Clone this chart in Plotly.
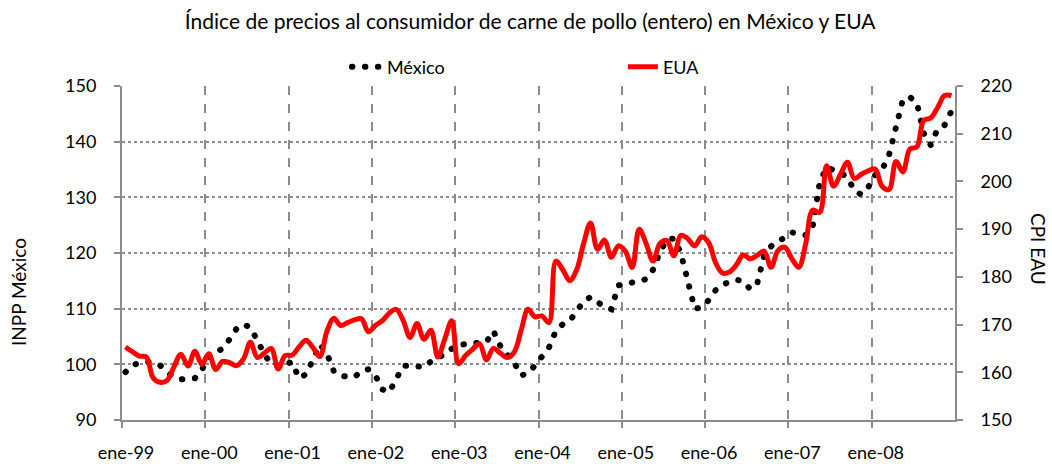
import plotly.graph_objects as go

# Months: index 0 = ene-1999 ... 119 = dic-2008
meses = list(range(120))

tick_pos = [-0.5, 11.5, 23.5, 35.5, 47.5, 59.5, 71.5, 83.5, 95.5, 107.5]
tick_labels = ["ene-99", "ene-00", "ene-01", "ene-02", "ene-03",
               "ene-04", "ene-05", "ene-06", "ene-07", "ene-08"]

# INPP México (left axis)
mexico = [
    98.6, 99.8, 100.3, 100.5, 100.3, 99.8, 98.6, 97.7, 97.3, 97.4, 97.5, 99.0,      # 1999
    101.3, 102.2, 102.8, 104.5, 106.4, 107.2, 106.6, 104.3, 101.8, 100.0, 99.8, 100.0,  # 2000
    100.4, 97.5, 98.2, 100.8, 103.6, 102.0, 98.8, 97.9, 97.7, 97.7, 98.8, 99.1,     # 2001
    98.0, 95.5, 95.0, 97.5, 99.7, 99.8, 99.7, 99.5, 100.5, 101.3, 101.7, 102.8,     # 2002
    103.5, 103.6, 103.7, 103.8, 104.0, 106.0, 103.3, 101.7, 100.3, 98.0, 98.4, 99.8,  # 2003
    101.5, 103.0, 106.0, 107.2, 107.8, 109.8, 111.3, 112.1, 111.3, 110.3, 109.9, 114.2,  # 2004
    114.4, 114.6, 115.0, 115.3, 117.0, 120.2, 122.4, 122.6, 120.0, 115.0, 110.0, 110.2,  # 2005
    111.5, 113.3, 114.3, 114.8, 115.2, 114.9, 113.5, 114.5, 119.5, 121.2, 122.2, 122.7,  # 2006
    123.7, 123.5, 123.2, 124.8, 132.6, 135.4, 135.0, 134.4, 133.6, 131.2, 130.5, 131.8,  # 2007
    134.0, 135.0, 137.6, 142.8, 147.6, 148.0, 147.0, 141.5, 139.4, 142.3, 143.0, 145.5,  # 2008
]

# CPI EUA (right axis)
eua = [
    165.3, 164.3, 163.4, 163.2, 158.8, 157.9, 158.3, 161.2, 163.8, 161.3, 164.4, 161.7,  # 1999
    163.9, 160.6, 162.3, 162.0, 161.4, 162.8, 166.3, 163.1, 164.0, 165.0, 160.7, 163.5,  # 2000
    163.6, 165.3, 166.7, 165.2, 163.3, 168.5, 171.3, 169.8, 170.4, 171.0, 171.2, 168.5,  # 2001
    169.8, 170.8, 172.4, 173.2, 170.9, 167.3, 170.2, 166.9, 168.8, 163.2, 167.0, 170.8,  # 2002
    161.8, 163.5, 164.8, 166.0, 162.6, 165.0, 164.0, 163.1, 164.2, 168.8, 173.2, 171.6,  # 2003
    171.8, 170.4, 183.3, 181.5, 179.2, 181.5, 187.0, 191.3, 185.8, 187.7, 184.1, 186.5,  # 2004
    185.4, 182.0, 190.0, 187.0, 183.3, 187.0, 187.6, 184.4, 188.7, 188.0, 186.5, 188.4,  # 2005
    187.2, 183.0, 180.8, 181.0, 182.5, 184.6, 183.8, 184.5, 185.4, 182.0, 185.5, 186.2,  # 2006
    183.8, 182.0, 187.0, 194.0, 193.5, 203.3, 199.0, 201.5, 204.0, 200.6, 201.5, 202.2,  # 2007
    202.6, 199.0, 198.3, 204.2, 202.0, 206.8, 207.2, 212.8, 213.3, 215.5, 218.0, 218.0,  # 2008
]

FONT = "Lato"
GRID = "#8c8c8c"

fig = go.Figure()
fig.add_trace(go.Scatter(
    x=meses, y=mexico, name="México", mode="lines",
    line=dict(color="#000000", width=6, dash="0.5px,12.5px"),
    yaxis="y",
))
fig.add_trace(go.Scatter(
    x=meses, y=eua, name="EUA", mode="lines",
    line=dict(color="#ff0000", width=5, shape="spline", smoothing=1),
    yaxis="y2",
))

fig.update_layout(
    width=1052, height=466,
    margin=dict(l=122, r=97, t=86, b=46, autoexpand=False),
    paper_bgcolor="white", plot_bgcolor="white",
    font=dict(family=FONT, size=18, color="#000000"),
    title=dict(
        text="Índice de precios al consumidor de carne de pollo (entero) en México y EUA",
        x=0.504, xref="container", xanchor="center",
        y=1 - 22 / 466, yref="container", yanchor="middle",
        font=dict(family=FONT, size=21, color="#000000"),
    ),
    showlegend=True,
    legend=dict(
        orientation="h", x=0.27, xanchor="left", xref="paper",
        y=1.057, yanchor="middle",
        entrywidth=231, entrywidthmode="pixels",
        font=dict(family=FONT, size=18, color="#000000"),
        bgcolor="rgba(0,0,0,0)",
    ),
    xaxis=dict(
        range=[-0.5, 119.5], automargin=False,
        tickmode="array", tickvals=tick_pos, ticktext=tick_labels,
        showgrid=True, gridcolor=GRID, gridwidth=1.5, griddash="dash",
        showline=True, linecolor=GRID, linewidth=2,
        ticks="outside", ticklen=6, tickwidth=2, tickcolor=GRID,
        ticklabelstandoff=9, ticklabelshift=4,
        zeroline=False,
        tickfont=dict(family=FONT, size=18, color="#000000"),
    ),
    yaxis=dict(
        range=[90, 150], tickmode="array", automargin=False,
        tickvals=[90, 100, 110, 120, 130, 140, 150],
        showgrid=True, gridcolor=GRID, gridwidth=1.5, griddash="dot",
        showline=True, linecolor=GRID, linewidth=2,
        ticks="outside", ticklen=6, tickwidth=2, tickcolor=GRID,
        ticklabelstandoff=14, zeroline=False,
        tickfont=dict(family=FONT, size=18, color="#000000"),
    ),
    yaxis2=dict(
        range=[150, 220], overlaying="y", side="right", tickmode="array",
        automargin=False,
        tickvals=[150, 160, 170, 180, 190, 200, 210, 220],
        showgrid=False,
        showline=True, linecolor=GRID, linewidth=2,
        ticks="outside", ticklen=6, tickwidth=2, tickcolor=GRID,
        ticklabelstandoff=14, zeroline=False,
        tickfont=dict(family=FONT, size=18, color="#000000"),
    ),
    annotations=[
        dict(text="INPP México", xref="paper", yref="paper",
             x=(18 - 122) / 833, y=(420 - 292) / 334, textangle=-90,
             showarrow=False, xanchor="center", yanchor="middle",
             font=dict(family=FONT, size=19, color="#000000")),
        dict(text="CPI EAU", xref="paper", yref="paper",
             x=(1039 - 122) / 833, y=(420 - 249) / 334, textangle=90,
             showarrow=False, xanchor="center", yanchor="middle",
             font=dict(family=FONT, size=19, color="#000000")),
    ],
)

post = """
document.body.style.margin = '0';
var gd = document.getElementById('{plot_id}');
function roundDots(){
  gd.querySelectorAll('path.js-line').forEach(function(p){
    if (p.style.stroke === 'rgb(0, 0, 0)') { p.style.strokeLinecap = 'round'; }
  });
}
roundDots();
gd.on('plotly_afterplot', roundDots);
"""

fig.write_html("out.html", post_script=post, config={"displayModeBar": False})
